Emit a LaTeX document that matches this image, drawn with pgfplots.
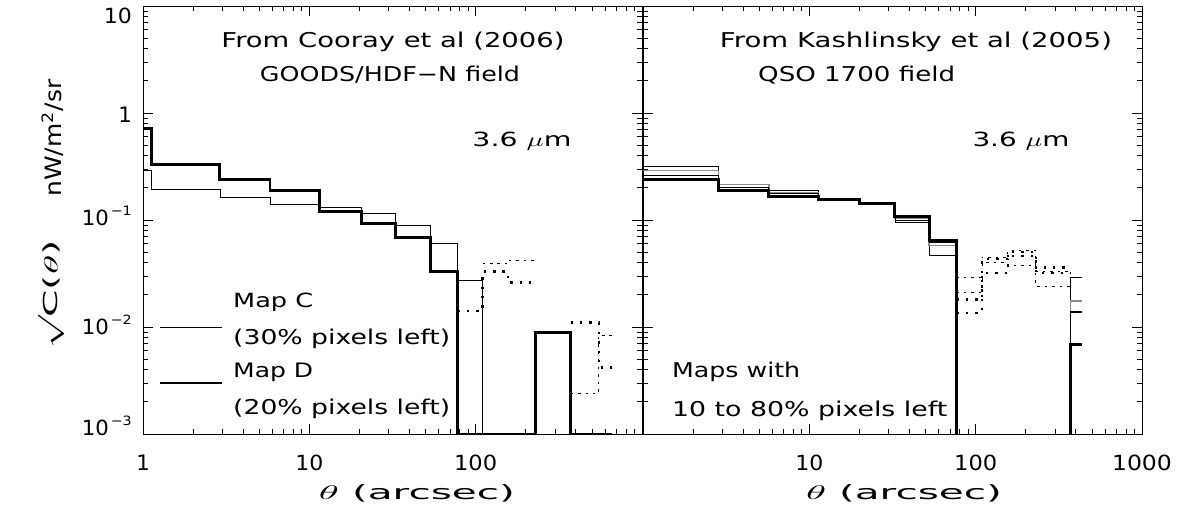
\documentclass[border=0pt]{standalone}
\usepackage{fontspec}
\setmainfont{DejaVu Sans}
\usepackage{graphicx}
\usepackage{pgfplots}
\pgfplotsset{compat=1.18}
\pgfplotsset{
 thinl/.style={const plot, black, line width=0.8pt},
 thickl/.style={const plot, black, line width=2.9pt},
 grayl/.style={const plot, black!45, line width=1.6pt},
 dotsthick/.style={const plot, black, line width=2.4pt, dash pattern=on 2.4pt off 7pt},
 dotsthin/.style={const plot, black, line width=0.8pt, dash pattern=on 2.5pt off 5pt},
}
% text forced to width #1 and height #2
\newcommand{\TW}[3]{\resizebox{#1}{#2}{#3}}
\newcommand{\pten}[1]{\resizebox{27bp}{15.5bp}{10}\kern2bp\raisebox{10bp}{\resizebox{21bp}{9.5bp}{#1}}}
\newcommand{\YL}[2]{\raisebox{#1}[0pt][0pt]{#2}}
\begin{document}
\begin{tikzpicture}
\useasboundingbox (0,0) rectangle (1185bp,514bp);
% ---------------- left panel ----------------
\begin{axis}[xmode=log, ymode=log, xmin=1, xmax=1000, ymin=1e-3, ymax=10,
  width=499bp, height=428bp, scale only axis, anchor=south west,
  at={(143bp,80bp)},
  tick align=inside, major tick length=10bp, minor tick length=5bp,
  axis line style={line width=0.9pt},
  tick style={black, line width=0.7pt},
  xtick={1,10,100,1000}, ytick={0.001,0.01,0.1,1,10},
  minor xtick={2,3,4,5,6,7,8,9,20,30,40,50,60,70,80,90,200,300,400,500,600,700,800,900},
  minor ytick={0.002,0.003,0.004,0.005,0.006,0.007,0.008,0.009,0.02,0.03,0.04,0.05,0.06,0.07,0.08,0.09,0.2,0.3,0.4,0.5,0.6,0.7,0.8,0.9,2,3,4,5,6,7,8,9},
  clip=false,
  xticklabel style={anchor=north, inner sep=0pt, yshift=-21bp},
  yticklabel style={anchor=east, inner sep=0pt, xshift=-11bp},
  xticklabels={\TW{13.5bp}{15.5bp}{1},\TW{28bp}{15.5bp}{10},\TW{43bp}{15.5bp}{100},{}},
  yticklabels={\YL{-1.75bp}{\pten{−3}},\YL{-7.75bp}{\pten{−2}},\YL{-5bp}{\pten{−1}},\YL{-9bp}{\TW{13.5bp}{15.5bp}{1}},\YL{-17.75bp}{\TW{28bp}{15.5bp}{10}}}]
\addplot[thinl] coordinates {(1,0.293)(1.12,0.195)(2.9,0.161)(5.8,0.141)(11.5,0.132)(20.7,0.116)(33,0.090)(53.4,0.061)(78,0.027)(110,0.001)(660,0.001)};
\addplot[dotsthin] coordinates {(110,0.039)(156,0.042)(230,0.042)};
\addplot[dotsthin] coordinates {(372,0.0024)(550,0.0084)(660,0.0084)};
\addplot[dotsthick] coordinates {(78,0.0141)(110,0.033)(156,0.026)(230,0.026)};
\addplot[dotsthick] coordinates {(372,0.011)(550,0.0042)(660,0.0042)};
\addplot[thickl] coordinates {(1,0.72)(1.12,0.33)(2.9,0.24)(5.8,0.187)(11.5,0.121)(20.7,0.092)(33,0.068)(53.4,0.033)(78,0.001)(230,0.0089)(372,0.001)(660,0.001)};
\end{axis}
% ---------------- right panel ----------------
\begin{axis}[xmode=log, ymode=log, xmin=1, xmax=1000, ymin=1e-3, ymax=10,
  width=499bp, height=428bp, scale only axis, anchor=south west,
  at={(643bp,80bp)},
  tick align=inside, major tick length=10bp, minor tick length=5bp,
  axis line style={line width=0.9pt},
  tick style={black, line width=0.7pt},
  xtick={1,10,100,1000}, ytick={0.001,0.01,0.1,1,10},
  minor xtick={2,3,4,5,6,7,8,9,20,30,40,50,60,70,80,90,200,300,400,500,600,700,800,900},
  minor ytick={0.002,0.003,0.004,0.005,0.006,0.007,0.008,0.009,0.02,0.03,0.04,0.05,0.06,0.07,0.08,0.09,0.2,0.3,0.4,0.5,0.6,0.7,0.8,0.9,2,3,4,5,6,7,8,9},
  clip=false,
  xticklabel style={anchor=north, inner sep=0pt, yshift=-21bp},
  xticklabels={{},\TW{28bp}{15.5bp}{10},\TW{43bp}{15.5bp}{100},\TW{60bp}{15.5bp}{1000}}, yticklabels={}]
\addplot[thinl] coordinates {(1,0.315)(2.85,0.217)(5.7,0.19)(11.3,0.16)(20,0.145)(32.7,0.100)(52.6,0.047)(76.7,0.001)};
\addplot[thinl] coordinates {(372,0.001)(372,0.029)(437,0.029)};
\addplot[grayl] coordinates {(1,0.29)(2.85,0.215)(5.7,0.18)(11.3,0.157)(20,0.143)(32.7,0.104)(52.6,0.058)(76.7,0.001)};
\addplot[grayl] coordinates {(372,0.001)(372,0.0175)(437,0.0175)};
\addplot[thinl] coordinates {(1,0.263)(2.85,0.20)(5.7,0.178)(11.3,0.155)(20,0.141)(32.7,0.096)(52.6,0.062)(76.7,0.001)};
\addplot[const plot, black, line width=1.6pt] coordinates {(372,0.001)(372,0.0138)(437,0.0138)};
\addplot[dotsthin] coordinates {(76.7,0.029)(109,0.040)(156,0.038)(230,0.024)(372,0.024)};
\addplot[dotsthin] coordinates {(76.7,0.021)(109,0.045)(156,0.052)(230,0.033)(372,0.033)};
\addplot[dotsthick] coordinates {(76.7,0.018)(109,0.032)(156,0.050)(230,0.036)(372,0.036)};
\addplot[dotsthick] coordinates {(76.7,0.0135)(109,0.043)(156,0.046)(230,0.032)(372,0.032)};
\addplot[thickl] coordinates {(1,0.24)(2.85,0.188)(5.7,0.167)(11.3,0.154)(20,0.141)(32.7,0.107)(52.6,0.064)(76.7,0.001)};
\addplot[thickl] coordinates {(372,0.001)(372,0.0069)(437,0.0069)};
\end{axis}
% ---------------- texts ----------------
\node[anchor=base, inner sep=0pt] at (393bp,466bp) {\TW{343bp}{15.5bp}{From Cooray et al (2006)}};
\node[anchor=base, inner sep=0pt] at (390bp,432bp) {\TW{260bp}{15.5bp}{GOODS/HDF−N field}};
\node[anchor=base, inner sep=0pt] at (522bp,367bp) {\TW{99bp}{14.5bp}{3.6 $\mu$m}};
\draw[line width=0.8pt] (160bp,187bp) -- (222bp,187bp);
\draw[line width=2.9pt] (160bp,131bp) -- (222bp,131bp);
\node[anchor=base west, inner sep=0pt] at (233bp,206bp) {\TW{80bp}{14.5bp}{Map C}};
\node[anchor=base west, inner sep=0pt] at (233bp,169bp) {\TW{217bp}{15.5bp}{(30\% pixels left)}};
\node[anchor=base west, inner sep=0pt] at (233bp,136bp) {\TW{80bp}{14.5bp}{Map D}};
\node[anchor=base west, inner sep=0pt] at (233bp,99bp) {\TW{217bp}{15.5bp}{(20\% pixels left)}};
\node[anchor=base, inner sep=0pt] at (916bp,466bp) {\TW{392bp}{15.5bp}{From Kashlinsky et al (2005)}};
\node[anchor=base west, inner sep=0pt] at (758bp,432bp) {\TW{197bp}{15.5bp}{QSO 1700 field}};
\node[anchor=base, inner sep=0pt] at (1021bp,367bp) {\TW{97bp}{14.5bp}{3.6 $\mu$m}};
\node[anchor=base west, inner sep=0pt] at (672bp,136bp) {\TW{128bp}{15.5bp}{Maps with}};
\node[anchor=base west, inner sep=0pt] at (672bp,97bp) {\TW{275bp}{15.5bp}{10 to 80\% pixels left}};
\node[anchor=base, inner sep=0pt] at (417bp,15bp) {\TW{196bp}{15bp}{$\theta$ (arcsec)}};
\node[anchor=base, inner sep=0pt] at (904bp,15bp) {\TW{196bp}{15bp}{$\theta$ (arcsec)}};
\node[rotate=90, inner sep=0pt] at (51bp,220bp) {\resizebox*{108bp}{26bp}{\scalebox{1}[1.35]{$\surd$}\kern-0.05em C($\theta$)}};
\node[rotate=90, inner sep=0pt] at (53bp,376bp) {\resizebox*{117bp}{22bp}{nW/m\textsuperscript{2}/sr}};
\end{tikzpicture}
\end{document}
